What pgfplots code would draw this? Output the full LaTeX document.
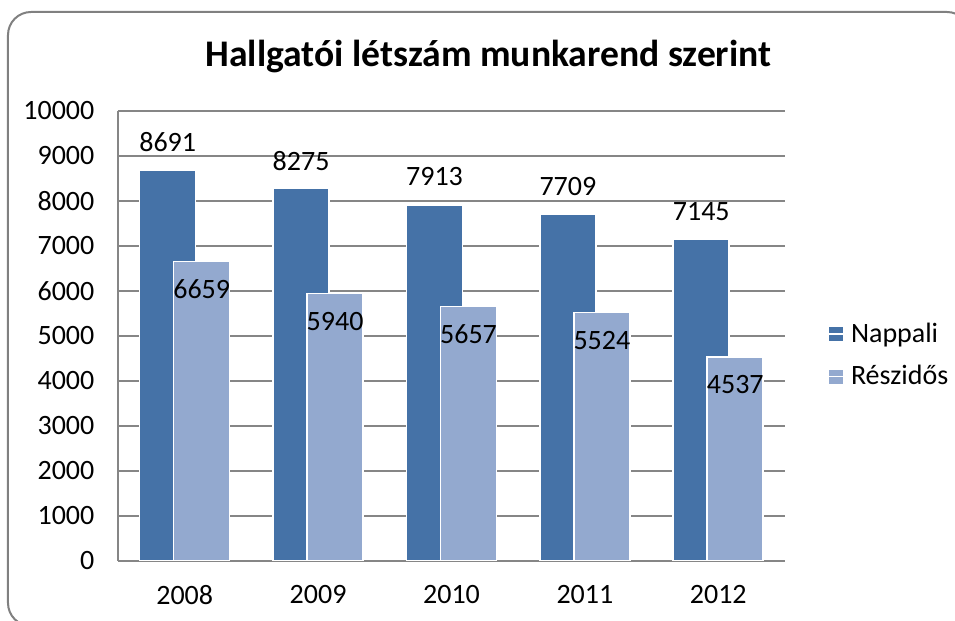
\documentclass[border=0pt]{standalone}
\usepackage{fontspec}
\setmainfont{Carlito}
\usepackage{pgfplots}
\pgfplotsset{compat=1.18}
\definecolor{nappali}{RGB}{69,114,167}
\definecolor{reszidos}{RGB}{147,169,207}
\definecolor{gridgray}{RGB}{134,134,134}
\definecolor{framegray}{RGB}{128,128,128}

\begin{document}
\begin{tikzpicture}
    % page: 955x621 px, 1 px = 0.5 pt, origin at the lower left corner of the plot area
    \useasboundingbox (-59pt,-30pt) rectangle (418.5pt,280.5pt);
    \clip (-59pt,-30pt) rectangle (418.5pt,280.5pt);
    \draw[framegray, line width=1pt, fill=white, rounded corners=11.5pt]
        (-55pt,-32.5pt) rectangle (426pt,274.5pt);

    \begin{axis}[
        at={(0pt,0pt)}, anchor=south west,
        scale only axis,
        width=333.5pt, height=225pt,
        ybar,
        bar width=28pt,
        xmin=-0.5, xmax=4.5,
        ymin=0, ymax=10000,
        xtick={0,1,2,3,4},
        xticklabels={2008,2009,2010,2011,2012},
        ytick={0,1000,...,10000},
        scaled y ticks=false,
        /pgf/number format/.cd, fixed, 1000 sep={}, assume math mode=true,
        /pgfplots/.cd,
        major tick length=0pt,
        tick label style={font=\fontsize{14}{16}\selectfont},
        yticklabel style={xshift=-8.3pt},
        xticklabel style={yshift=-8.5pt},
        ymajorgrids=true,
        grid style={draw=gridgray, line width=0.75pt},
        axis x line*=bottom,
        axis y line*=left,
        axis line style={-, draw=gridgray, line width=1pt},
        legend style={
            at={(1.0645,0.457)}, anchor=west,
            draw=none, fill=none, inner sep=0pt,
            row sep=6pt,
            font=\fontsize{14}{16}\selectfont,
        },
        legend cell align=left,
        legend image code/.code={\fill[#1, draw=none] (0pt,-3.5pt) rectangle (7pt,3.5pt);
            \path (0pt,0pt) -- (8.5pt,0pt);},
        nodes near coords,
        every node near coord/.append style={font=\fontsize{14}{16}\selectfont, anchor=center},
    ]
        \addplot[fill=nappali, draw=white, line width=0.8pt, bar shift=-8.5pt,
            nodes near coords style={yshift=14pt}]
            coordinates {(0,8691) (1,8275) (2,7913) (3,7709) (4,7145)};
        \addplot[fill=reszidos, draw=white, line width=0.8pt, bar shift=8.5pt,
            nodes near coords style={yshift=-14pt}]
            coordinates {(0,6659) (1,5940) (2,5657) (3,5524) (4,4537)};
        \legend{Nappali, Részidős}
    \end{axis}

    \node[font=\fontsize{18.8}{22}\selectfont\bfseries] at (185.25pt,252pt)
        {Hallgatói létszám munkarend szerint};
\end{tikzpicture}
\end{document}
